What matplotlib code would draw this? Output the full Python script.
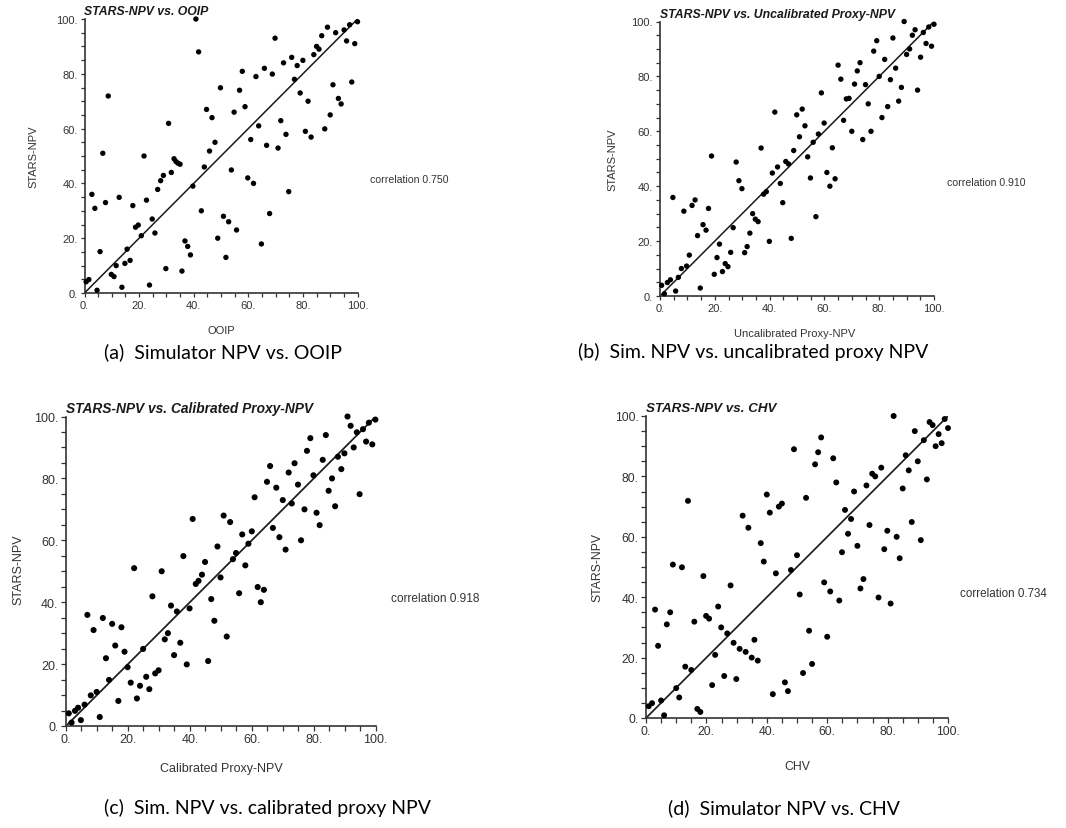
import matplotlib
matplotlib.use("Agg")
import matplotlib.pyplot as plt
from matplotlib.ticker import MultipleLocator, FuncFormatter

# ---------------- data ----------------
A_x = [0.6,1.6,2.7,3.8,4.6,5.7,6.7,7.7,8.7,9.8,10.8,11.6,12.7,13.7,14.8,15.6,16.7,17.7,18.7,19.7,
       20.8,21.8,22.7,23.8,24.8,25.8,26.8,27.9,28.9,29.8,30.8,31.8,32.8,33.5,34.2,35.0,35.7,36.8,37.8,38.8,
       39.7,40.8,41.8,42.8,43.9,44.7,45.8,46.7,47.8,48.8,49.8,50.9,51.8,52.8,53.8,54.8,55.7,56.8,57.8,58.8,
       59.8,60.9,61.9,62.8,63.8,64.8,65.9,66.7,67.8,68.8,69.8,70.9,71.9,72.9,73.8,74.8,75.9,76.9,77.9,79.0,
       80.0,80.9,81.9,83.0,84.0,85.0,85.9,86.9,88.0,89.0,90.0,91.0,92.0,93.0,94.0,95.1,96.0,97.1,97.9,99.0,100.0]
A_y = [4.1,4.9,36,30.9,1,15.1,51,33,71.9,6.8,6,10,34.9,2.1,10.8,16,11.9,31.9,24,24.8,
       20.9,50,33.9,2.9,27,21.9,37.8,41,42.9,8.9,61.9,44,49,48,47.4,47,8,19,17,13.9,
       39,100,88,30,46,67,51.8,64,55,20,74.9,28,13,26,44.9,66,23,74,80.9,68,
       42,56,40,79,61,17.9,82,53.9,29,79.9,93,52.9,62.9,84,57.9,37,86,78,83,73,
       84.9,59,70,56.9,87,90,89,93.9,59.9,97,65,76,95,71,69,96,92,97.9,77,91,99]

B_x = [0.6,1.6,2.7,3.8,4.7,5.7,6.7,7.8,8.7,9.7,10.7,11.7,12.8,13.7,14.7,15.7,16.8,17.7,18.8,19.8,
       20.8,21.7,22.8,23.8,24.8,25.8,26.7,27.8,28.8,29.9,30.9,31.8,32.8,33.8,34.8,35.8,36.9,37.8,38.8,39.9,
       41.0,41.9,42.9,43.9,44.8,45.9,46.9,47.9,48.8,49.9,50.9,51.9,52.9,53.9,54.9,55.9,56.9,57.8,58.9,59.9,
       60.9,62.0,62.9,63.9,65.0,66.0,67.0,68.0,69.0,70.0,71.0,72.0,73.0,74.0,75.0,76.0,77.0,78.0,79.1,80.0,
       81.0,82.0,83.1,84.1,85.0,86.0,87.1,88.1,89.1,90.0,91.1,92.1,93.1,94.0,95.1,96.1,97.1,98.1,99.1,100.0]
B_y = [3.9,0.8,4.9,5.9,35.9,1.8,6.8,10,30.9,10.9,14.9,33,35,22,2.9,26,24,31.9,51,7.9,
       14,18.9,8.9,11.8,10.7,15.9,24.9,48.8,42,39.1,15.8,18,22.9,30,28,27.1,53.9,37.1,38,19.9,
       44.8,67,47,41,34,49,48.1,21,53,66,58,68.1,62,50.7,43,56,28.9,59,74,63,
       45,40,54,42.7,84.1,79,64,71.8,72,60,77.2,82,85,57,77,70,60,89.2,93,80,
       65,86.2,69,78.8,94,83,71,76,100,88,90,95,97,75,87,96,92,98,91,99]

C_x = [0.9,1.8,2.9,3.9,4.8,6.0,6.9,8.0,8.9,9.9,10.9,11.9,12.9,13.9,14.9,15.9,16.9,17.9,18.9,19.9,
       20.9,22.0,22.9,23.9,24.9,25.9,26.9,27.9,28.8,29.9,30.9,31.9,32.9,33.9,34.9,35.8,36.9,37.9,39.0,39.9,
       40.9,41.9,42.8,43.9,44.9,45.9,46.9,47.9,48.9,49.9,50.9,51.9,53.0,53.9,54.9,55.9,56.9,57.9,58.9,60.0,
       60.9,61.9,62.9,63.9,64.9,65.9,66.8,67.9,68.9,70.0,70.9,71.9,72.9,73.8,74.9,75.9,77.0,77.8,78.9,79.9,
       80.9,81.9,82.9,83.9,84.8,85.9,86.9,87.8,88.9,89.9,90.9,91.9,92.9,93.9,94.8,95.9,96.9,97.8,98.9,99.9]
C_y = [4.1,1.1,4.9,5.9,1.9,6.9,35.9,9.9,31,11,2.9,34.9,21.9,14.9,33,26,8.1,31.9,24,19,
       14,51,8.9,13,24.9,15.9,11.9,41.9,17,18,50,28,30,38.9,22.9,37,26.9,54.9,19.9,38,
       66.9,45.9,46.9,48.9,53,21,41,34,58,48,68,28.9,65.9,53.9,55.9,42.9,61.9,51.9,58.9,62.9,
       73.9,44.9,40,44,78.9,84,64,77,61,73,57,81.9,71.9,84.9,78,60,70,88.9,93,81,
       68.9,64.9,86,94,76,80,71,87,83,88.1,100,97,90,94.9,74.9,95.9,91.9,98,91,99]

D_x = [0.9,2.0,3.0,4.0,5.0,6.0,6.9,8.0,8.9,10.0,11.0,11.9,13.0,13.9,15.0,16.0,17.0,18.0,19.0,19.9,
       20.9,21.9,22.9,23.9,24.9,25.9,26.9,28.0,29.0,29.9,31.0,32.0,33.0,33.9,35.0,35.9,37.0,38.0,39.0,40.0,
       41.0,42.0,43.0,44.0,45.0,46.0,47.0,48.0,49.0,50.0,50.9,52.0,53.0,54.0,55.0,56.0,57.0,58.0,59.0,60.0,
       61.0,62.0,63.0,64.0,64.9,65.9,66.9,67.9,68.9,70.0,71.0,72.0,73.0,74.0,74.9,75.9,77.0,77.9,78.9,79.9,
       81.0,82.0,83.0,84.0,85.0,86.0,87.0,88.0,89.0,90.0,91.0,92.0,93.0,93.9,94.9,95.9,96.9,97.9,98.9,100.0]
D_y = [3.9,4.9,35.9,23.9,5.8,0.9,31,35,50.8,9.9,6.8,49.9,17,71.9,15.9,31.9,3,2,47,33.8,
       32.9,10.9,20.9,36.9,30,13.9,28,43.9,24.9,12.9,22.9,67,21.9,63,20,25.9,19,57.9,51.8,74,
       68,7.9,47.9,70,71,11.8,8.9,49,89,53.9,40.9,14.9,72.9,28.9,17.9,84,88,92.9,44.9,26.9,
       41.9,86,78,38.9,54.9,68.9,61,65.9,75,57,42.9,46,77,63.9,80.9,80,39.9,82.9,55.9,62,
       37.9,100,60,52.9,76,87,82,64.9,95,85,58.9,92,79,98,97,90,94,91,99,96]

titles = ["STARS-NPV vs. OOIP", "STARS-NPV vs. Uncalibrated Proxy-NPV",
          "STARS-NPV vs. Calibrated Proxy-NPV", "STARS-NPV vs. CHV"]
xlabels = ["OOIP", "Uncalibrated Proxy-NPV", "Calibrated Proxy-NPV", "CHV"]
ylabel = "STARS-NPV"
correlations = ["0.750", "0.910", "0.918", "0.734"]
captions = ["(a)  Simulator NPV vs. OOIP", "(b)  Sim. NPV vs. uncalibrated proxy NPV",
            "(c)  Sim. NPV vs. calibrated proxy NPV", "(d)  Simulator NPV vs. CHV"]
tick_values = [0, 20, 40, 60, 80, 100]

# ---------------- layout (pixels) ----------------
W, H = 1066, 829
fig = plt.figure(figsize=(W / 100, H / 100), dpi=100)

def fx(x):
    return x / W

def fy(y):
    return 1 - y / H

panels = [
    dict(x0=84.5, x1=357.5, yb=294, yt=20, s=1.0, yl=(33, 157), xl=(221, 331), co=(370, 180), ca=(104, 352)),
    dict(x0=660, x1=934, yb=297, yt=22.5, s=1.0, yl=(612, 160), xl=(795, 334), co=(947, 183), ca=(578, 352)),
    dict(x0=66, x1=375.7, yb=727, yt=417.5, s=1.13, yl=(18, 570), xl=(221, 769), co=(391, 599), ca=(104, 808)),
    dict(x0=646, x1=948, yb=719, yt=417, s=1.1, yl=(597, 568), xl=(797, 767), co=(960, 594), ca=(668, 808)),
]
data = [(A_x, A_y), (B_x, B_y), (C_x, C_y), (D_x, D_y)]

fnt = "Liberation Sans"
cap_font = "Lato"
ink = "#1a1a1a"

for i, p in enumerate(panels):
    s = p["s"]
    ax = fig.add_axes([fx(p["x0"]), fy(p["yb"]), (p["x1"] - p["x0"]) / W, (p["yb"] - p["yt"]) / H])
    xs, ys = data[i]
    ax.plot([0, 100], [0, 100], color=ink, lw=1.1 * s, zorder=2)
    ax.scatter(xs, ys, s=15 * s * s, color="black", edgecolors="none", zorder=3, clip_on=False)
    ax.set_xlim(0, 100)
    ax.set_ylim(0, 100)
    for side in ("top", "right"):
        ax.spines[side].set_visible(False)
    for side in ("left", "bottom"):
        ax.spines[side].set_linewidth(1.2)
        ax.spines[side].set_color("#333333")
    ax.xaxis.set_major_locator(MultipleLocator(5))
    ax.yaxis.set_major_locator(MultipleLocator(5))
    fmt = FuncFormatter(lambda v, pos: (f"{int(round(v))}." if int(round(v)) in tick_values else ""))
    ax.xaxis.set_major_formatter(fmt)
    ax.yaxis.set_major_formatter(fmt)
    ax.tick_params(direction="out", length=3 * s, width=0.9, color="#333333",
                   labelsize=8.0 * s, labelcolor="#333333", pad=2)
    for lbl in ax.get_xticklabels() + ax.get_yticklabels():
        lbl.set_fontfamily(fnt)
    for lbl in ax.get_yticklabels():
        lbl.set_verticalalignment("center_baseline")
    ax.text(0, 100.6, titles[i], ha="left", va="bottom", fontsize=8.8 * s,
            fontfamily=fnt, fontweight="bold", fontstyle="italic", color=ink, clip_on=False)
    fig.text(fx(p["yl"][0]), fy(p["yl"][1]), ylabel, rotation=90, ha="center", va="center",
             fontsize=8.0 * s, fontfamily=fnt, color="#333333")
    fig.text(fx(p["xl"][0]), fy(p["xl"][1]), xlabels[i], ha="center", va="center",
             fontsize=8.0 * s, fontfamily=fnt, color="#333333")
    fig.text(fx(p["co"][0]), fy(p["co"][1]), f"correlation {correlations[i]}", ha="left", va="center",
             fontsize=7.6 * s, fontfamily=fnt, color="#333333")
    fig.text(fx(p["ca"][0]), fy(p["ca"][1]), captions[i], ha="left", va="center",
             fontsize=14, fontfamily=cap_font, color="black")

fig.savefig("out.png", dpi=100, facecolor="white")
